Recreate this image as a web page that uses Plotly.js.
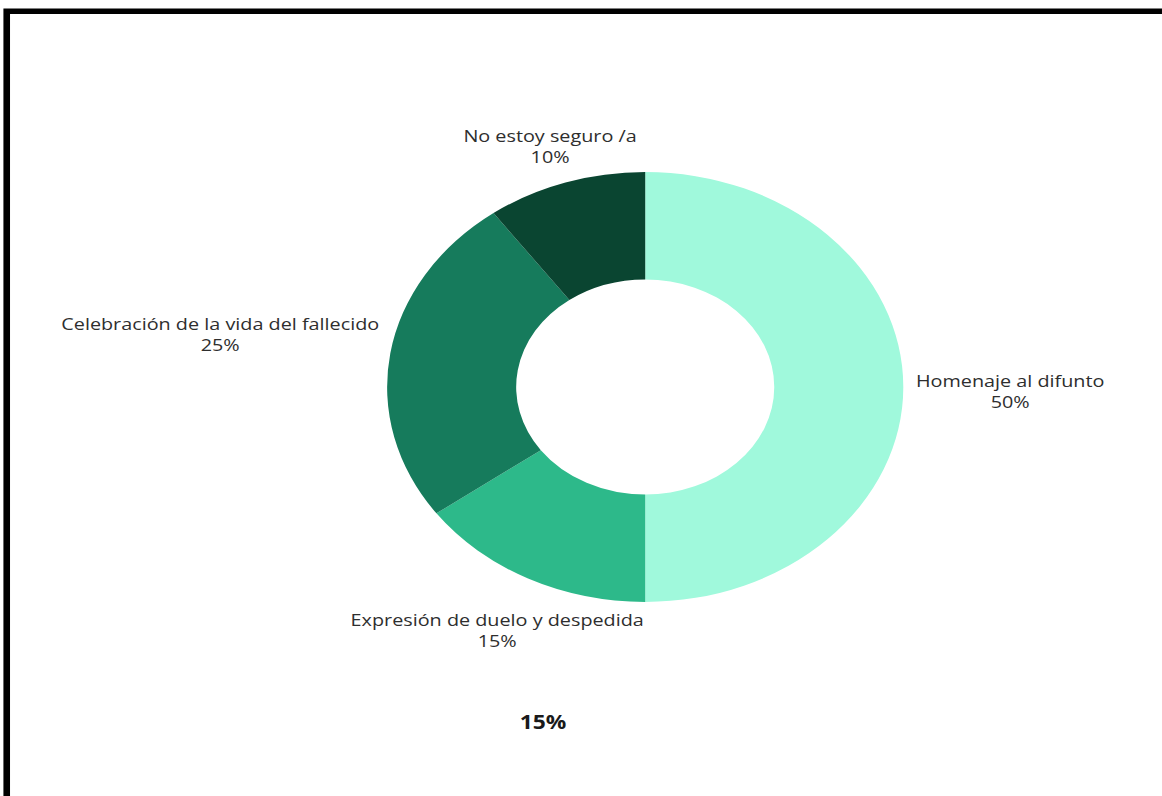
<!DOCTYPE html>
<html>
<head>
<meta charset="utf-8">
<script src="https://cdn.plot.ly/plotly-3.0.1.min.js"></script>
<style>
  html, body { margin: 0; padding: 0; background: #ffffff; overflow: hidden; }
  #chart { width: 968px; height: 796px; transform: scaleX(1.2004); transform-origin: 0 0; }
</style>
</head>
<body>
<div id="chart"></div>
<script>
// Data
var categories = ["Homenaje al difunto", "Expresión de duelo y despedida", "Celebración de la vida del fallecido", "No estoy seguro /a"];
var values = [50, 15, 25, 10];
var sliceColors = ["#a0f9dc", "#2db98a", "#167b5c", "#0a4531"];
var footerText = "15%";

// Label placements (paper coords, unscaled frame)
var labelPos = [
  {x: 841.7 / 968, y: 1 - 391 / 796},
  {x: 414.2 / 968, y: 1 - 630 / 796},
  {x: 183.3 / 968, y: 1 - 334 / 796},
  {x: 458.3 / 968, y: 1 - 146 / 796}
];

var total = values.reduce(function (a, b) { return a + b; }, 0);
var annotations = categories.map(function (c, i) {
  return {
    xref: "paper", yref: "paper",
    x: labelPos[i].x, y: labelPos[i].y,
    xanchor: "center", yanchor: "middle",
    text: c + "<br>" + Math.round(values[i] / total * 100) + "%",
    showarrow: false,
    align: "center",
    font: {family: "Open Sans, sans-serif", size: 16.5, color: "#2e2e2e"}
  };
});
annotations.push({
  xref: "paper", yref: "paper",
  x: 452 / 968, y: 1 - 722 / 796,
  xanchor: "center", yanchor: "middle",
  text: "<b>" + footerText + "</b>",
  showarrow: false,
  font: {family: "Open Sans, sans-serif", size: 19, color: "#1a1a1a"}
});

var trace = {
  type: "pie",
  labels: categories,
  values: values,
  hole: 0.5,
  sort: false,
  direction: "clockwise",
  rotation: 0,
  textinfo: "none",
  hoverinfo: "label+percent",
  marker: {colors: sliceColors, line: {width: 0}},
  domain: {x: [322.5 / 968, 752.5 / 968], y: [194 / 796, 624 / 796]},
  showlegend: false
};

var xL = 5.6 / 968, yT = 1 - 11.3 / 796;
var layout = {
  width: 968, height: 796,
  margin: {l: 0, r: 0, t: 0, b: 0},
  paper_bgcolor: "#ffffff",
  plot_bgcolor: "#ffffff",
  showlegend: false,
  annotations: annotations,
  shapes: [{
    type: "path", xref: "paper", yref: "paper",
    path: "M " + xL + ",0 L " + xL + "," + yT + " L 1," + yT,
    line: {color: "#000000", width: 5.5}
  }]
};

Plotly.newPlot("chart", [trace], layout, {displayModeBar: false, staticPlot: true});
</script>
</body>
</html>
